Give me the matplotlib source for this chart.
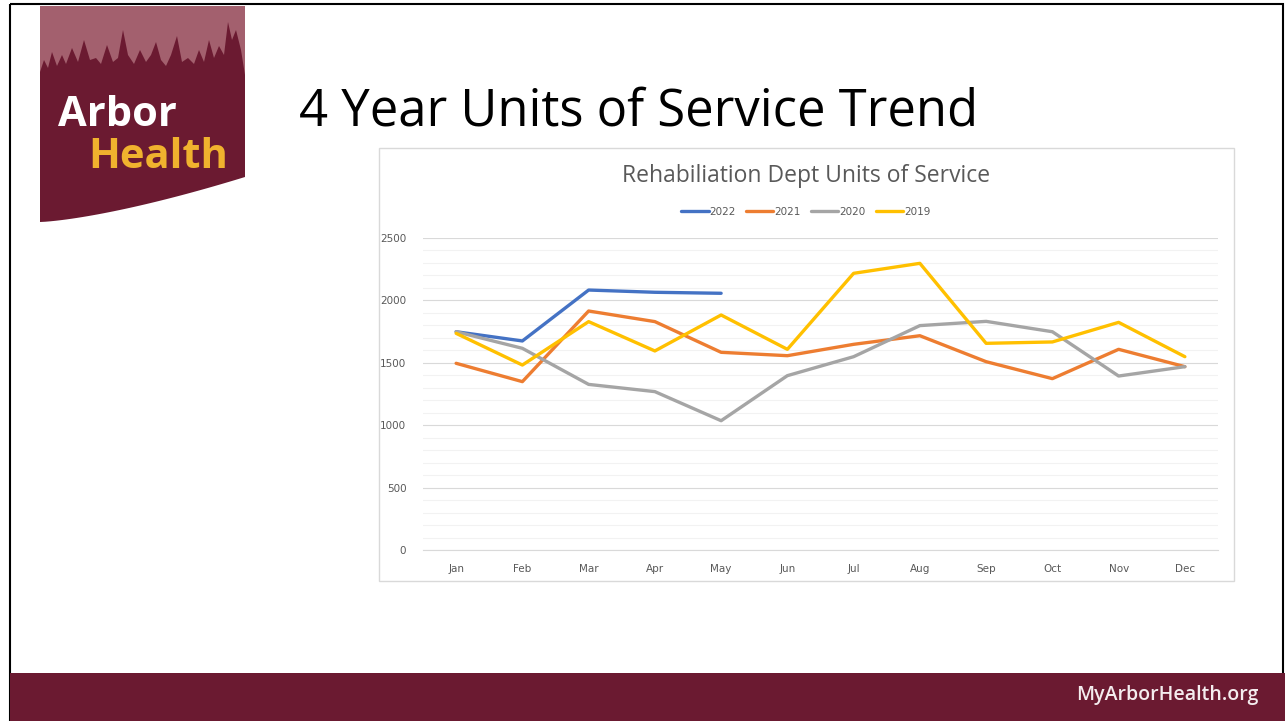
import numpy as np
import matplotlib
matplotlib.use('Agg')
from matplotlib import pyplot as plt
from matplotlib.patches import Polygon, Rectangle

months = ['Jan', 'Feb', 'Mar', 'Apr', 'May', 'Jun', 'Jul', 'Aug', 'Sep', 'Oct', 'Nov', 'Dec']
units_2022 = [1749, 1675, 2083, 2065, 2057]
units_2021 = [1496, 1349, 1915, 1830, 1584, 1557, 1648, 1717, 1509, 1373, 1608, 1469]
units_2020 = [1749, 1616, 1327, 1269, 1036, 1397, 1549, 1798, 1832, 1749, 1394, 1469]
units_2019 = [1736, 1482, 1830, 1595, 1883, 1608, 2217, 2297, 1656, 1667, 1824, 1549]

series = [('2022', units_2022, '#4472C4'),
          ('2021', units_2021, '#ED7D31'),
          ('2020', units_2020, '#A5A5A5'),
          ('2019', units_2019, '#FFC000')]

W, H = 1285, 721
maroon = '#6B1A31'
fig = plt.figure(figsize=(W / 100, H / 100), dpi=100)

# slide background layer in pixel coords
bg = fig.add_axes([0, 0, 1, 1])
bg.set_xlim(0, W)
bg.set_ylim(H, 0)
bg.axis('off')
bg.add_patch(Rectangle((10, 4), 1273, 720, fill=False, ec='black', lw=1.5))
bg.add_patch(Rectangle((10, 673), 1275, 48, color=maroon, lw=0))
bg.text(1258, 695, 'MyArborHealth.org', color='#F4ECEE', fontsize=14,
        family='Open Sans', fontweight='semibold', ha='right', va='center')

# logo (tree line silhouette)
bg.add_patch(Rectangle((40, 6), 205, 80, color='#A3606E', lw=0))
tree_x = [40, 44, 48, 52, 57, 62, 66, 72, 78, 84, 90, 96, 101, 107, 113, 118, 123, 128, 134,
          140, 146, 151, 156, 161, 166, 171, 177, 182, 188, 194, 199, 204, 209, 214, 219, 224,
          228, 232, 236, 241, 245]
tree_y = [72, 60, 68, 52, 66, 55, 64, 48, 62, 40, 60, 58, 64, 45, 62, 58, 30, 55, 64, 50,
          62, 55, 42, 60, 66, 55, 36, 62, 58, 64, 50, 62, 40, 58, 46, 55, 22, 40, 30, 50, 75]
xs = np.linspace(0, 1, 40)
curve = [(40 + 205 * t, 222 - 45 * t ** 1.4) for t in xs][::-1]
pts = list(zip(tree_x, tree_y)) + [(245, 177)] + curve
bg.add_patch(Polygon(pts, closed=True, color=maroon, lw=0))
bg.text(58, 116, 'Arbor', color='white', fontsize=30, family='Open Sans',
        fontweight='bold', va='center', ha='left')
bg.text(88, 157, 'Health', color='#F0B22E', fontsize=30, family='Open Sans',
        fontweight='bold', va='center', ha='left')

bg.text(299, 112, '4 Year Units of Service Trend', fontsize=36.5, family='Open Sans',
        va='center', ha='left', color='black')

# chart box
bg.add_patch(Rectangle((379, 148), 855, 433, fill=False, ec='#D9D9D9', lw=1))
bg.text(806, 176, 'Rehabiliation Dept Units of Service', fontsize=16.5, family='Open Sans',
        color='#595959', ha='center', va='center')

ax = fig.add_axes([423 / W, 1 - 550 / H, 795 / W, 312 / H])
x = np.arange(len(months))
for name, vals, col in series:
    ax.plot(x[:len(vals)], vals, color=col, lw=2.4, label=name, solid_capstyle='round')

ax.set_xlim(-0.5, 11.5)
ax.set_ylim(0, 2500)
ax.set_xticks(x)
ax.set_xticklabels(months)
ax.set_yticks(range(0, 2501, 500))
ax.set_yticks(range(0, 2501, 100), minor=True)
ax.grid(True, which='major', axis='y', color='#D9D9D9', lw=0.8)
ax.grid(True, which='minor', axis='y', color='#F2F2F2', lw=0.8)
ax.set_axisbelow(True)
for s in ['top', 'right', 'left']:
    ax.spines[s].set_visible(False)
ax.spines['bottom'].set_color('#D9D9D9')
ax.tick_params(axis='both', which='both', length=0, labelsize=7.5, colors='#595959')
ax.tick_params(axis='x', pad=10)
ax.tick_params(axis='y', pad=12)

ax.legend(loc='center', bbox_to_anchor=(806 / W, 1 - 212 / H), bbox_transform=fig.transFigure,
          ncol=4, frameon=False, fontsize=7.5, handlelength=2.6, handletextpad=0.1,
          columnspacing=1.0, labelcolor='#595959')

fig.savefig('out.png', dpi=100)
